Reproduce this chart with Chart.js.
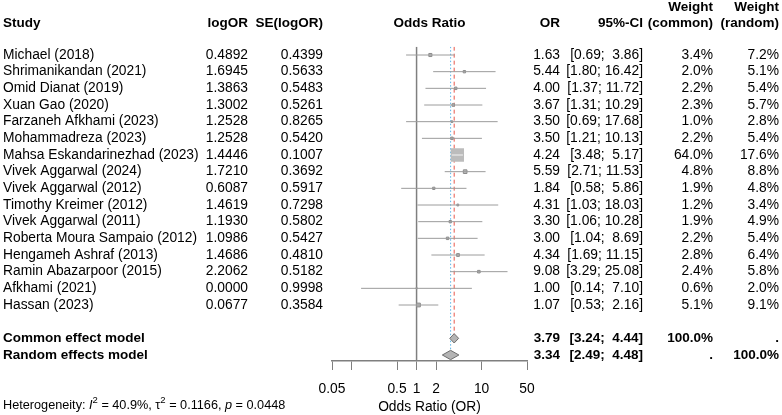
<!DOCTYPE html>
<html>
<head>
<meta charset="utf-8">
<script src="https://cdn.jsdelivr.net/npm/chart.js@4/dist/chart.umd.min.js"></script>
<style>
  html, body { margin: 0; padding: 0; background: #fff; }
  #wrap { width: 782px; height: 415px; }
</style>
</head>
<body>
<div id="wrap"><canvas id="forest"></canvas></div>
<script>
// study data, as printed on the plot
const studies = [
  'Michael (2018)', 'Shrimanikandan (2021)', 'Omid Dianat (2019)', 'Xuan Gao (2020)',
  'Farzaneh Afkhami (2023)', 'Mohammadreza (2023)', 'Mahsa Eskandarinezhad (2023)',
  'Vivek Aggarwal (2024)', 'Vivek Aggarwal (2012)', 'Timothy Kreimer (2012)',
  'Vivek Aggarwal (2011)', 'Roberta Moura Sampaio (2012)', 'Hengameh Ashraf (2013)',
  'Ramin Abazarpoor (2015)', 'Afkhami (2021)', 'Hassan (2023)'
];
const logOR = ['0.4892', '1.6945', '1.3863', '1.3002', '1.2528', '1.2528', '1.4446', '1.7210',
  '0.6087', '1.4619', '1.1930', '1.0986', '1.4686', '2.2062', '0.0000', '0.0677'];
const seLogOR = ['0.4399', '0.5633', '0.5483', '0.5261', '0.8265', '0.5420', '0.1007', '0.3692',
  '0.5917', '0.7298', '0.5802', '0.5427', '0.4810', '0.5182', '0.9998', '0.3584'];
const oddsRatio = [1.63, 5.44, 4.00, 3.67, 3.50, 3.50, 4.24, 5.59, 1.84, 4.31, 3.30, 3.00, 4.34, 9.08, 1.00, 1.07];
const ciLower = [0.69, 1.80, 1.37, 1.31, 0.69, 1.21, 3.48, 2.71, 0.58, 1.03, 1.06, 1.04, 1.69, 3.29, 0.14, 0.53];
const ciUpper = [3.86, 16.42, 11.72, 10.29, 17.68, 10.13, 5.17, 11.53, 5.86, 18.03, 10.28, 8.69, 11.15, 25.08, 7.10, 2.16];
const weightCommon = [3.4, 2.0, 2.2, 2.3, 1.0, 2.2, 64.0, 4.8, 1.9, 1.2, 1.9, 2.2, 2.8, 2.4, 0.6, 5.1];
const weightRandom = [7.2, 5.1, 5.4, 5.7, 2.8, 5.4, 17.6, 8.8, 4.8, 3.4, 4.9, 5.4, 6.4, 5.8, 2.0, 9.1];

// pooled estimates
const models = ['Common effect model', 'Random effects model'];
const modelOR = [3.79, 3.34];
const modelLower = [3.24, 2.49];
const modelUpper = [4.44, 4.48];
const modelWeightCommon = ['100.0%', '.'];
const modelWeightRandom = ['.', '100.0%'];
const modelRows = [17, 18];

const tickValues = [0.05, 0.1, 0.5, 1, 2, 10, 50];
const tickLabels = ['0.05', '', '0.5', '1', '2', '10', '50'];

const FONT = '"Liberation Sans", Arial, sans-serif';
const SIZE = 13.8;
const BOLD_SIZE = 13.5;
const Y_TOP = -0.5;
const Y_BOTTOM = 18.36;
const MAX_SIDE = 13.3;
const DIAMOND_H = 0.28;

const maxW = Math.max(...weightCommon);
function squareSide(i) {
  return MAX_SIDE * Math.sqrt(weightCommon[i] / maxW);
}

// CI segments, broken by gaps
const ciPoints = [];
studies.forEach((s, i) => {
  ciPoints.push({x: ciLower[i], y: i}, {x: ciUpper[i], y: i}, {x: oddsRatio[i], y: null});
});

function diamond(m) {
  const r = modelRows[m];
  return [
    {x: modelLower[m], y: r}, {x: modelOR[m], y: r - DIAMOND_H},
    {x: modelUpper[m], y: r}, {x: modelOR[m], y: r + DIAMOND_H},
    {x: modelLower[m], y: r}
  ];
}

function fmt(v) { return v.toFixed(2); }
function ciText(lo, hi) { return '[' + fmt(lo) + '; ' + fmt(hi).padStart(5, ' ') + ']'; }

const textPlugin = {
  id: 'forestText',
  afterDraw(chart) {
    const ctx = chart.ctx;
    const y = chart.scales.y;
    ctx.save();
    ctx.fillStyle = '#000';
    ctx.textBaseline = 'middle';

    function put(txt, x, py, align, bold) {
      ctx.font = bold ? 'bold ' + BOLD_SIZE + 'px ' + FONT : SIZE + 'px ' + FONT;
      ctx.textAlign = align;
      ctx.fillText(txt, x, py);
    }

    // headers
    put('Study', 3, 23, 'left', true);
    put('logOR', 248, 23, 'right', true);
    put('SE(logOR)', 323, 23, 'right', true);
    put('Odds Ratio', 429.5, 23, 'center', true);
    put('OR', 560, 23, 'right', true);
    put('95%-CI', 643, 23, 'right', true);
    put('Weight', 713, 7, 'right', true);
    put('(common)', 713, 23, 'right', true);
    put('Weight', 779, 7, 'right', true);
    put('(random)', 779, 23, 'right', true);

    studies.forEach((s, i) => {
      const py = y.getPixelForValue(i);
      put(s, 3, py, 'left', false);
      put(logOR[i], 248, py, 'right', false);
      put(seLogOR[i], 323, py, 'right', false);
      put(fmt(oddsRatio[i]), 560, py, 'right', false);
      put(ciText(ciLower[i], ciUpper[i]), 643, py, 'right', false);
      put(weightCommon[i].toFixed(1) + '%', 713, py, 'right', false);
      put(weightRandom[i].toFixed(1) + '%', 779, py, 'right', false);
    });

    models.forEach((m, k) => {
      const py = y.getPixelForValue(modelRows[k]);
      put(m, 3, py, 'left', true);
      put(fmt(modelOR[k]), 560, py, 'right', true);
      put(ciText(modelLower[k], modelUpper[k]), 643, py, 'right', true);
      put(modelWeightCommon[k], 713, py, 'right', true);
      put(modelWeightRandom[k], 779, py, 'right', true);
    });

    // heterogeneity line with superscripts
    const hy = 405;
    let hx = 3;
    const parts = [
      ['Heterogeneity: ', ''], ['I', 'italic '], ['2', 'sup'], [' = 40.9%, \u03c4', ''],
      ['2', 'sup'], [' = 0.1166, ', ''], ['p', 'italic '], [' = 0.0448', '']
    ];
    ctx.textAlign = 'left';
    parts.forEach(([t, st]) => {
      if (st === 'sup') {
        ctx.font = '9.5px ' + FONT;
        ctx.fillText(t, hx, hy - 5);
      } else {
        ctx.font = st + '12.7px ' + FONT;
        ctx.fillText(t, hx, hy);
      }
      hx += ctx.measureText(t).width;
    });
    ctx.restore();
  }
};

new Chart(document.getElementById('forest'), {
  data: {
    datasets: [
      {
        type: 'line',
        label: 'common',
        data: diamond(0),
        borderColor: '#6e6e6e',
        backgroundColor: '#b4b4b4',
        borderWidth: 1,
        fill: 'shape',
        pointRadius: 0,
        order: 0
      },
      {
        type: 'line',
        label: 'random',
        data: diamond(1),
        borderColor: '#6e6e6e',
        backgroundColor: '#b4b4b4',
        borderWidth: 1,
        fill: 'shape',
        pointRadius: 0,
        order: 0
      },
      {
        type: 'line',
        label: 'ci',
        data: ciPoints,
        spanGaps: false,
        borderWidth: 1,
        borderColor: '#9c9c9c',
        segment: {
          borderColor: c => (c.p1.x - c.p0.x) < squareSide(Math.floor(c.p0DataIndex / 3)) ? '#f4f4f4' : '#9c9c9c'
        },
        pointRadius: 0,
        order: 1
      },
      {
        type: 'scatter',
        label: 'studies',
        data: oddsRatio.map((v, i) => ({x: v, y: i})),
        pointStyle: 'rect',
        pointRadius: c => squareSide(c.dataIndex) / Math.SQRT2,
        backgroundColor: '#bcbcbc',
        borderColor: '#8c8c8c',
        borderWidth: c => squareSide(c.dataIndex) > 8 ? 0 : 1,
        order: 2
      },
      {
        type: 'line',
        label: 'common line',
        data: [{x: modelOR[0], y: Y_TOP}, {x: modelOR[0], y: modelRows[0]}],
        borderColor: '#e8564a',
        borderWidth: 1,
        borderDash: [4, 3],
        pointRadius: 0,
        order: 3
      },
      {
        type: 'line',
        label: 'random line',
        data: [{x: modelOR[1], y: Y_TOP}, {x: modelOR[1], y: modelRows[1]}],
        borderColor: '#5ab4e8',
        borderWidth: 1,
        borderDash: [1.5, 2],
        pointRadius: 0,
        order: 3
      },
      {
        type: 'line',
        label: 'no effect',
        data: [{x: 1, y: Y_TOP}, {x: 1, y: Y_BOTTOM}],
        borderColor: '#7f7f7f',
        borderWidth: 1.5,
        pointRadius: 0,
        order: 4
      }
    ]
  },
  options: {
    responsive: true,
    maintainAspectRatio: false,
    animation: false,
    events: [],
    layout: { padding: { left: 332, right: 255, top: 46.67, bottom: 0 } },
    plugins: { legend: { display: false }, tooltip: { enabled: false } },
    scales: {
      x: {
        type: 'logarithmic',
        min: 0.05,
        max: 50,
        afterBuildTicks: scale => { scale.ticks = tickValues.map(v => ({value: v})); },
        afterFit: scale => { scale.height = 54; },
        ticks: {
          autoSkip: false,
          maxRotation: 0,
          padding: 11,
          color: '#000',
          font: { family: FONT, size: SIZE },
          callback: (v, i) => tickLabels[i]
        },
        grid: { drawOnChartArea: false, drawTicks: true, tickLength: 9, color: '#7f7f7f', lineWidth: 1 },
        border: { display: true, color: '#7f7f7f', width: 1.5 },
        title: {
          display: true,
          text: 'Odds Ratio (OR)',
          color: '#000',
          font: { family: FONT, size: SIZE },
          padding: { top: 0, bottom: 0 }
        }
      },
      y: {
        type: 'linear',
        display: false,
        reverse: true,
        min: Y_TOP,
        max: Y_BOTTOM
      }
    }
  },
  plugins: [textPlugin]
});
</script>
</body>
</html>
